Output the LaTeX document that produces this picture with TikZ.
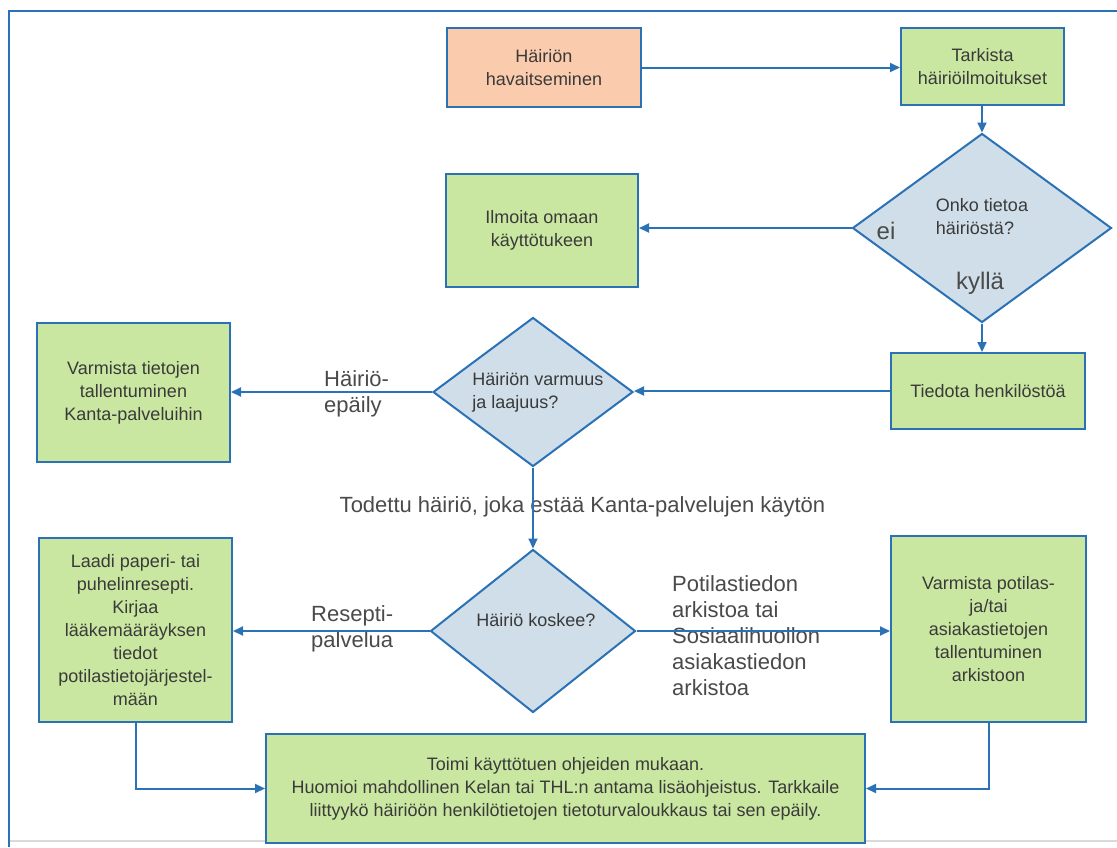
\documentclass[tikz,border=0pt]{standalone}
\usepackage{fontspec}
\setmainfont{Liberation Sans}
\usetikzlibrary{shapes.geometric,arrows.meta}
\definecolor{lineblue}{HTML}{2A72B5}
\definecolor{boxgreen}{HTML}{C9E7A1}
\definecolor{boxsalmon}{HTML}{FBCBAD}
\definecolor{diamondblue}{HTML}{CFDEE8}
\definecolor{textgray}{HTML}{3A3A3A}
\definecolor{labelgray}{HTML}{4A4A4A}
\definecolor{rulegray}{HTML}{D9D9D9}

\tikzset{
  stepbox/.style={draw=lineblue, line width=2pt, fill=boxgreen, text=textgray,
    align=center, inner sep=0pt, font=\fontsize{18}{23}\selectfont},
  decision/.style={diamond, draw=lineblue, line width=2pt, fill=diamondblue,
    inner sep=0pt},
  decisiontext/.style={text=textgray, align=left, inner sep=0pt,
    font=\fontsize{18}{23}\selectfont},
  flow/.style={draw=lineblue, line width=2pt, -{Triangle[length=10pt,width=9pt]}},
  edgelabel/.style={text=labelgray, align=left, inner sep=0pt,
    font=\fontsize{22}{26}\selectfont},
}

\begin{document}
\begin{tikzpicture}[x=1pt, y=-1pt]

\useasboundingbox (0,0) rectangle (1117,847);

% Frame
\draw[rulegray, line width=1.5pt] (10,841) -- (1117,841);
\draw[lineblue, line width=2.5pt] (9,847) -- (9,11) -- (1117,11);

% ---------- Top row ----------
\node[stepbox, fill=boxsalmon, minimum width=194pt, minimum height=79pt] (detect) at (544,67.5) {Häiriön\\havaitseminen};
\node[stepbox, minimum width=163pt, minimum height=77pt] (check) at (982.5,66.5) {Tarkista\\häiriöilmoitukset};

% ---------- Is there information? ----------
\node[decision, minimum width=259pt, minimum height=189pt,
  label={[decisiontext, yshift=11pt]center:{Onko tietoa\\häiriöstä?}}] (known) at (982,228) {};
\node[stepbox, minimum width=192pt, minimum height=113pt] (report) at (542,230.5) {Ilmoita omaan\\käyttötukeen};
\node[edgelabel, font=\fontsize{24}{28}\selectfont] (no) at (886,231) {ei};
\node[edgelabel, font=\fontsize{24}{28}\selectfont] (yes) at (980,283) {kyllä};

% ---------- Certainty and extent ----------
\node[stepbox, minimum width=194pt, minimum height=76pt] (inform) at (988,391) {Tiedota henkilöstöä};
\node[decision, minimum width=200pt, minimum height=149pt,
  label={[decisiontext, xshift=5pt]center:{Häiriön varmuus\\ja laajuus?}}] (extent) at (533,392) {};
\node[stepbox, minimum width=193pt, minimum height=139pt] (secure) at (133.5,392.5) {Varmista tietojen\\tallentuminen\\Kanta-palveluihin};
\node[edgelabel, anchor=west] (suspect) at (324,394) {Häiriö-\\epäily};
\node[edgelabel] (confirmed) at (582.5,507) {Todettu häiriö, joka estää Kanta-palvelujen käytön};

% ---------- What does it concern? ----------
\node[decision, minimum width=205pt, minimum height=163pt,
  label={[decisiontext, yshift=11pt, xshift=3pt]center:{Häiriö koskee?}}] (concern) at (533,631) {};
\node[stepbox, minimum width=193pt, minimum height=184pt] (paper) at (135.5,630) {Laadi paperi- tai\\puhelinresepti.\\Kirjaa\\lääkemääräyksen\\tiedot\\potilastietojärjestel-\\mään};
\node[stepbox, minimum width=195pt, minimum height=186pt] (archive) at (988.5,629) {Varmista potilas-\\ja/tai\\asiakastietojen\\tallentuminen\\arkistoon};
\node[edgelabel, anchor=west] (prescription) at (311,628.5) {Resepti-\\palvelua};
\node[edgelabel, anchor=west] (records) at (672,635.5) {Potilastiedon\\arkistoa tai\\Sosiaalihuollon\\asiakastiedon\\arkistoa};

% ---------- Final step ----------
\node[stepbox, minimum width=599pt, minimum height=109pt] (act) at (565.5,788.5) {Toimi käyttötuen ohjeiden mukaan.\\Huomioi mahdollinen Kelan tai THL:n antama lisäohjeistus. Tarkkaile\\liittyykö häiriöön henkilötietojen tietoturvaloukkaus tai sen epäily.};

% Connectors
\draw[flow] (detect.east) -- (detect.east -| check.west);
\draw[flow] (check.south -| known.north) -- (known.north);
\draw[flow] (known.west) -- (known.west -| report.east);
\draw[flow] (known.south) -- (known.south |- inform.north);
\draw[flow] (inform.west) -- (inform.west -| extent.east);
\draw[flow] (extent.west) -- (extent.west -| secure.east);
\draw[flow] (extent.south) -- (concern.north);
\draw[flow] (concern.west) -- (concern.west -| paper.east);
\draw[flow] (concern.east) -- (concern.east -| archive.west);
\draw[flow] (paper.south) |- (act.west);
\draw[flow] (archive.south) |- (act.east);

\end{tikzpicture}
\end{document}
